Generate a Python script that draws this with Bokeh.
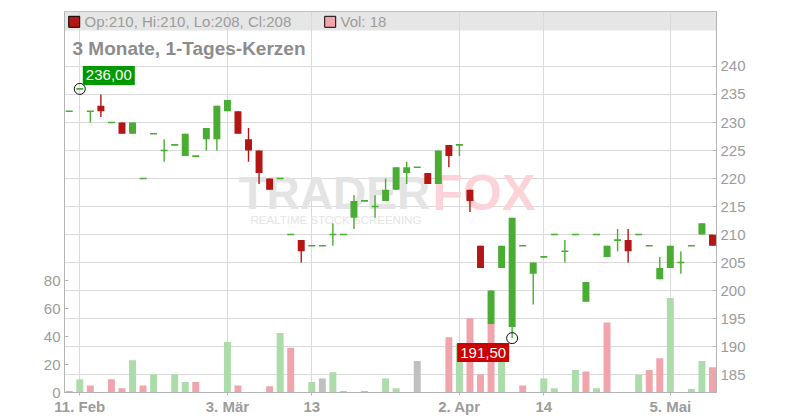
import numpy as np
from bokeh.plotting import figure
from bokeh.models import Range1d, LinearAxis, FixedTicker, BoxAnnotation
from bokeh.core.properties import value
from bokeh.embed import file_html
from bokeh.resources import INLINE

# ---------------- data ----------------
tick_idx = [1, 15, 23, 37, 45, 57]
tick_labels = ["11. Feb", "3. Mär", "13", "2. Apr", "14", "5. Mai"]

open_ = [232, 236, 232, 233, 230, 230, 228, 220, 228, 225,
         226, 224, 224, 227, 227, 232, 232, 227, 225, 220,
         220, 210, 209, 208, 208, 210, 210, 213, 216, 215,
         216, 218, 221, 222, 221, 219, 226, 226, 218, 208,
         194, 204, 193.5, 208, 203, 206, 210, 207, 210, 198,
         210, 206, 209, 209, 210, 208, 202, 204, 205, 208,
         210, 210]
high = [232, 236, 232, 235, 230, 230, 230, 220, 228, 227,
        226, 228, 224, 229, 233, 234, 232, 229, 225, 220,
        220, 210, 209, 208, 208, 212, 210, 217, 216, 217,
        220, 222, 223, 222, 221, 225, 226, 226, 218, 208,
        200, 208, 213, 208, 205, 206, 210, 209, 210, 201.5,
        210, 208, 211, 211, 210, 208, 206, 208, 207, 208,
        212, 210]
low = [232, 236, 230, 231, 230, 228, 228, 220, 228, 223,
       226, 224, 224, 225, 225, 232, 228, 223, 219, 218,
       220, 210, 205, 208, 208, 208, 210, 211, 216, 213,
       216, 218, 219, 222, 219, 219, 222, 224, 214, 204,
       194, 204, 191.5, 208, 197.5, 206, 210, 205, 210, 198,
       210, 206, 207, 205, 210, 208, 202, 204, 203, 208,
       210, 208]
close = [232, 236, 232, 232, 230, 228, 230, 220, 228, 225,
         226, 228, 224, 229, 233, 234, 228, 225, 221, 218,
         220, 210, 207, 208, 208, 210, 210, 216, 216, 215,
         218, 222, 222, 222, 219, 225, 224, 226, 216, 204,
         200, 208, 213, 208, 205, 206, 210, 207, 210, 201.5,
         210, 208, 209, 207, 210, 208, 204, 208, 205, 208,
         212, 208]
volume = [1, 9.5, 5, 0, 9.5, 3, 23, 5, 13, 0,
          13, 7.5, 7.5, 0, 0, 36, 5, 0, 0, 4.5,
          42.5, 32, 0, 7.5, 10, 14.5, 1, 0, 1, 0,
          10, 3, 0, 22.5, 0, 0, 39.5, 35, 53, 13,
          49, 29, 0, 5, 0, 10, 3, 0, 16, 15,
          3, 50, 0, 0, 12.5, 16, 24.5, 67.5, 0, 2.5,
          22.5, 18]
prev_close = 233  # close of the day before the first visible candle (estimate)

price_ticks = [185, 190, 195, 200, 205, 210, 215, 220, 225, 230, 235, 240]
vol_ticks = [0, 20, 40, 60, 80]

# ---------------- layout (page pixels) ----------------
FL, FT, FW, FH = 64, 11, 652, 381
X0, X1 = -0.45, 61.38
P0, P1 = 181.79, 249.82
V1 = FH / 1.4
DX = (X1 - X0) / FW   # data units per pixel (x)
DY = (P1 - P0) / FH   # data units per pixel (y)

def px_x(px):
    return X0 + (px - FL) * DX

def px_y(py):
    return P1 - (py - FT) * DY

GREEN = "#48ad32"
RED = "#b41616"
VGREEN = "#abdcaa"
VRED = "#f0a4ac"
VGRAY = "#c0c0c0"
AXC = "#b4b4b4"
TXT = "#9c9c9c"
FONT = "Liberation Sans"

o = np.array(open_, float)
h = np.array(high, float)
l = np.array(low, float)
c = np.array(close, float)
v = np.array(volume, float)
idx = np.arange(len(o))

p = figure(frame_width=FW, frame_height=FH,
           x_range=Range1d(X0, X1), y_range=Range1d(P0, P1),
           y_axis_location="right", output_backend="svg", toolbar_location=None,
           min_border_left=FL, min_border_top=FT, min_border_right=60,
           min_border_bottom=5, outline_line_color=AXC)
p.title.visible = False
p.extra_y_ranges = {"vol": Range1d(0, V1)}

# header band
p.add_layout(BoxAnnotation(bottom=px_y(30), fill_color="#e6e6e6", fill_alpha=1.0,
                           line_color=None, level="image"))

# grid
p.xgrid.ticker = FixedTicker(ticks=tick_idx)
p.ygrid.ticker = FixedTicker(ticks=price_ticks)
for g in (p.xgrid, p.ygrid):
    g.grid_line_color = "#dadada"
    g.grid_line_width = 1

# price axis (right)
ya = p.yaxis[0]
ya.ticker = FixedTicker(ticks=price_ticks)
# volume axis (left)
va = LinearAxis(y_range_name="vol", ticker=FixedTicker(ticks=vol_ticks))
p.add_layout(va, "left")
for ax in (ya, va):
    ax.major_tick_in = 4
    ax.major_tick_out = 0
    ax.minor_tick_line_color = None
    ax.axis_line_color = AXC
    ax.major_tick_line_color = AXC
    ax.major_label_text_color = TXT
    ax.major_label_text_font = FONT
    ax.major_label_text_font_size = "15px"
    ax.major_label_standoff = 4

xa = p.xaxis[0]
xa.ticker = FixedTicker(ticks=tick_idx)
xa.major_label_overrides = {i: t for i, t in zip(tick_idx, tick_labels)}
xa.major_tick_in = 0
xa.major_tick_out = 3
xa.minor_tick_line_color = None
xa.axis_line_color = AXC
xa.major_tick_line_color = AXC
xa.major_label_text_color = TXT
xa.major_label_text_font = FONT
xa.major_label_text_font_style = "bold"
xa.major_label_text_font_size = "15px"
xa.major_label_standoff = 2

# watermark
p.text(x=[px_x(238)], y=[px_y(192)], text=["TRADER"], text_font=value(FONT),
       text_font_style="bold", text_font_size="46px", text_color="#e4e4e4",
       text_baseline="middle")
p.text(x=[px_x(432)], y=[px_y(192)], text=["FOX"], text_font=value(FONT),
       text_font_style="bold", text_font_size="50px", text_color="#fbd3d8",
       text_baseline="middle")
p.text(x=[px_x(250)], y=[px_y(219)], text=["REALTIME STOCK SCREENING"], text_font=value(FONT),
       text_font_size="11.5px", text_color="#e4e4e4", text_baseline="middle")

# volume bars
prev = np.concatenate([[prev_close], c[:-1]])
vcol = [VGREEN if a > b else (VRED if a < b else VGRAY) for a, b in zip(c, prev)]
p.vbar(x=idx, top=v, bottom=0, width=0.66, y_range_name="vol",
       fill_color=vcol, line_color=None)

# candles
up = c >= o
ccol = [GREEN if u else RED for u in up]
p.segment(x0=idx, x1=idx, y0=l, y1=h, line_color=ccol, line_width=1.4)
body = o != c
p.vbar(x=idx[body], top=np.maximum(o, c)[body], bottom=np.minimum(o, c)[body], width=0.66,
       fill_color=[ccol[i] for i in idx[body]], line_color=None)
flat = ~body
p.segment(x0=idx[flat] - 0.33, x1=idx[flat] + 0.33, y0=o[flat], y1=o[flat],
          line_color=GREEN, line_width=1.6)

# extreme markers
imax = int(np.argmax(h))
imin = int(np.argmin(l))
p.scatter(x=[imax, imin], y=[h[imax], l[imin]], marker="circle", size=11,
          fill_color=None, line_color="#111111", line_width=1)

def fmt(x):
    return f"{x:.2f}".replace(".", ",")

BW, BH = 52, 19
mx = imax + (3 + BW / 2) * DX
my = h[imax] + (4 + BH / 2) * DY
nx = imin - (3 + BW / 2) * DX
ny = l[imin] - (5 + BH / 2) * DY
p.rect(x=[mx, nx], y=[my, ny], width=BW, height=BH, width_units="screen",
       height_units="screen", fill_color=["#009900", "#cc0000"], line_color=None)
p.text(x=[mx, nx], y=[my, ny], text=[fmt(h[imax]), fmt(l[imin])], text_font=value(FONT),
       text_font_size="15px", text_color="white", text_align="center",
       text_baseline="middle")

# title and header legend
p.text(x=[px_x(72)], y=[px_y(47.8)], text=["3 Monate, 1-Tages-Kerzen"], text_font=value(FONT),
       text_font_style="bold", text_font_size="19px", text_color="#8c8c8c",
       text_baseline="middle")
p.scatter(x=[px_x(73.7), px_x(329.7)], y=[px_y(21.3), px_y(21.3)], marker="square", size=11,
          fill_color=[RED, VRED], line_color="black", line_width=1)
last = len(c) - 1
def num(x):
    return f"{x:g}"
p.text(x=[px_x(84), px_x(340)], y=[px_y(21.3), px_y(21.3)],
       text=[f"Op:{num(o[last])}, Hi:{num(h[last])}, Lo:{num(l[last])}, Cl:{num(c[last])}",
             f"Vol: {num(v[last])}"],
       text_font=value(FONT), text_font_size="15px", text_color=TXT,
       text_baseline="middle")

open("out.html", "w").write(file_html(p, INLINE))
